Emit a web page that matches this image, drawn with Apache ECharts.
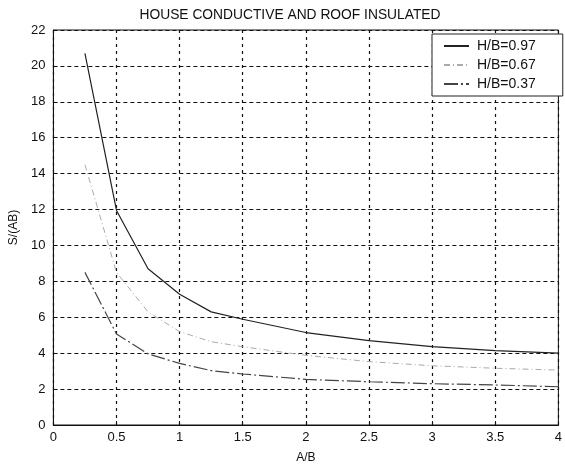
<!DOCTYPE html>
<html>
<head>
<meta charset="utf-8">
<script src="https://cdn.jsdelivr.net/npm/echarts@6/dist/echarts.min.js"></script>
<style>html,body{margin:0;padding:0;background:#fff;}#c{width:565px;height:473px;}</style>
</head>
<body>
<div id="c"></div>
<script>
const xValues = [0.25, 0.5, 0.75, 1, 1.25, 1.5, 2, 2.5, 3, 3.5, 4];
const hb097 = [20.7, 11.95, 8.7, 7.28, 6.3, 5.89, 5.15, 4.7, 4.36, 4.14, 4.0];
const hb067 = [14.5, 8.5, 6.3, 5.2, 4.64, 4.36, 3.88, 3.53, 3.3, 3.16, 3.06];
const hb037 = [8.5, 5.07, 3.96, 3.43, 3.03, 2.84, 2.54, 2.41, 2.3, 2.23, 2.13];
const seriesNames = ['H/B=0.97', 'H/B=0.67', 'H/B=0.37'];
const titleText = 'HOUSE CONDUCTIVE AND ROOF INSULATED';

const pair = arr => xValues.map((x, i) => [x, arr[i]]);
const font = 'Liberation Sans, Arial, sans-serif';
const chart = echarts.init(document.getElementById('c'), null, {renderer: 'canvas'});
chart.setOption({
  animation: false,
  backgroundColor: '#fff',
  title: {
    text: titleText, left: 285, top: 3, textAlign: 'center',
    textStyle: {fontFamily: font, fontSize: 13.8, fontWeight: 'normal', color: '#111'}
  },
  grid: {left: 53, right: 2, top: 30, bottom: 48, show: true, borderColor: '#111', borderWidth: 1},
  legend: {
    orient: 'vertical', left: 432, top: 34,
    padding: [5, 27, 5, 11], itemGap: 5, itemWidth: 25, itemHeight: 14,
    backgroundColor: '#fff', borderColor: '#222', borderWidth: 1,
    itemStyle: {opacity: 0},
    textStyle: {fontFamily: font, fontSize: 14, color: '#111', padding: [0, 0, 0, 3]},
    data: seriesNames
  },
  xAxis: {
    type: 'value', min: 0, max: 4, interval: 0.5,
    name: 'A/B', nameLocation: 'middle', nameGap: 27,
    nameTextStyle: {fontFamily: font, fontSize: 12, color: '#111'},
    axisLine: {show: true, lineStyle: {color: '#111'}},
    axisTick: {show: true, inside: true, length: 4, lineStyle: {color: '#111'}},
    axisLabel: {fontFamily: font, fontSize: 13, color: '#111', margin: 6},
    splitLine: {show: true, lineStyle: {color: '#111', type: [3, 4], width: 1.2}}
  },
  yAxis: {
    type: 'value', min: 0, max: 22, interval: 2,
    name: 'S/(AB)', nameLocation: 'middle', nameGap: 25, nameRotate: 90,
    nameTextStyle: {fontFamily: font, fontSize: 12, color: '#111'},
    axisLine: {show: true, lineStyle: {color: '#111'}},
    axisTick: {show: true, inside: true, length: 4, lineStyle: {color: '#111'}},
    axisLabel: {fontFamily: font, fontSize: 13, color: '#111', margin: 8},
    splitLine: {show: true, lineStyle: {color: '#111', type: [4, 3], width: 1.2}}
  },
  series: [
    {name: seriesNames[0], type: 'line', data: pair(hb097), symbol: 'none',
     lineStyle: {color: '#222', width: 1.2, type: 'solid'}, itemStyle: {color: '#222'}},
    {name: seriesNames[1], type: 'line', data: pair(hb067), symbol: 'none',
     lineStyle: {color: '#aaa', width: 1, type: [6, 3, 1, 3]}, itemStyle: {color: '#aaa'}},
    {name: seriesNames[2], type: 'line', data: pair(hb037), symbol: 'none',
     lineStyle: {color: '#444', width: 1.2, type: [14, 3, 2, 3]}, itemStyle: {color: '#444'}}
  ]
});
</script>
</body>
</html>
